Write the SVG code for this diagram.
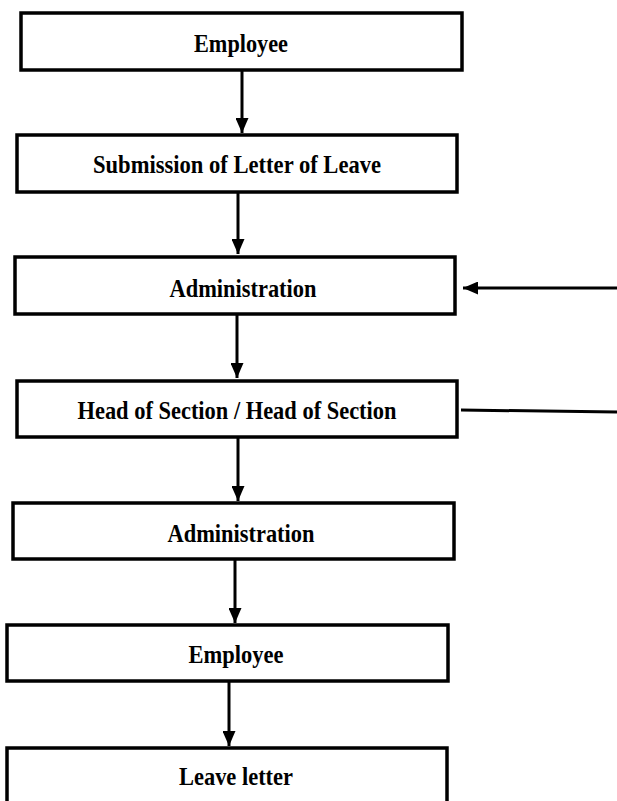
<svg xmlns="http://www.w3.org/2000/svg" width="617" height="801" viewBox="0 0 617 801">
<style>
.box{fill:#fff;stroke:#000;stroke-width:3.5}
.lbl{font-family:"Liberation Serif","Times New Roman","DejaVu Serif",serif;font-weight:bold;font-size:26px;fill:#000;text-anchor:middle}
.con{stroke:#000;stroke-width:3;fill:none}
</style>
<defs>
<marker id="ah" viewBox="0 0 15 13" refX="15" refY="6.5" markerWidth="15" markerHeight="13" markerUnits="userSpaceOnUse" orient="auto">
<path d="M0,0 L15,6.5 L0,13 Z" fill="#000"/>
</marker>
</defs>
<rect width="617" height="801" fill="#fff"/>
<g id="connectors">
<line class="con" x1="242" y1="70" x2="242" y2="133" marker-end="url(#ah)"/>
<line class="con" x1="238" y1="192" x2="238" y2="254" marker-end="url(#ah)"/>
<line class="con" x1="617" y1="288" x2="463" y2="288" marker-end="url(#ah)"/>
<line class="con" x1="237" y1="314" x2="237" y2="378" marker-end="url(#ah)"/>
<line class="con" x1="461" y1="410" x2="617" y2="412"/>
<line class="con" x1="238" y1="437" x2="238" y2="501" marker-end="url(#ah)"/>
<line class="con" x1="235" y1="559" x2="235" y2="623" marker-end="url(#ah)"/>
<line class="con" x1="229" y1="681" x2="229" y2="746" marker-end="url(#ah)"/>
</g>
<g id="n1"><rect class="box" x="21" y="13" width="441" height="57"/><text class="lbl" x="241" y="52" textLength="94" lengthAdjust="spacingAndGlyphs">Employee</text></g>
<g id="n2"><rect class="box" x="17" y="135" width="440" height="57"/><text class="lbl" x="237" y="173" textLength="288" lengthAdjust="spacingAndGlyphs">Submission of Letter of Leave</text></g>
<g id="n3"><rect class="box" x="15" y="257" width="440" height="57"/><text class="lbl" x="243" y="297" textLength="147" lengthAdjust="spacingAndGlyphs">Administration</text></g>
<g id="n4"><rect class="box" x="17" y="381" width="440" height="56"/><text class="lbl" x="237" y="419" textLength="319" lengthAdjust="spacingAndGlyphs">Head of Section / Head of Section</text></g>
<g id="n5"><rect class="box" x="13" y="503" width="441" height="56"/><text class="lbl" x="241" y="542" textLength="147" lengthAdjust="spacingAndGlyphs">Administration</text></g>
<g id="n6"><rect class="box" x="7" y="625" width="441" height="56"/><text class="lbl" x="236" y="663" textLength="95" lengthAdjust="spacingAndGlyphs">Employee</text></g>
<g id="n7"><rect class="box" x="7" y="748" width="440" height="70"/><text class="lbl" x="236" y="785" textLength="114" lengthAdjust="spacingAndGlyphs">Leave letter</text></g>
</svg>
